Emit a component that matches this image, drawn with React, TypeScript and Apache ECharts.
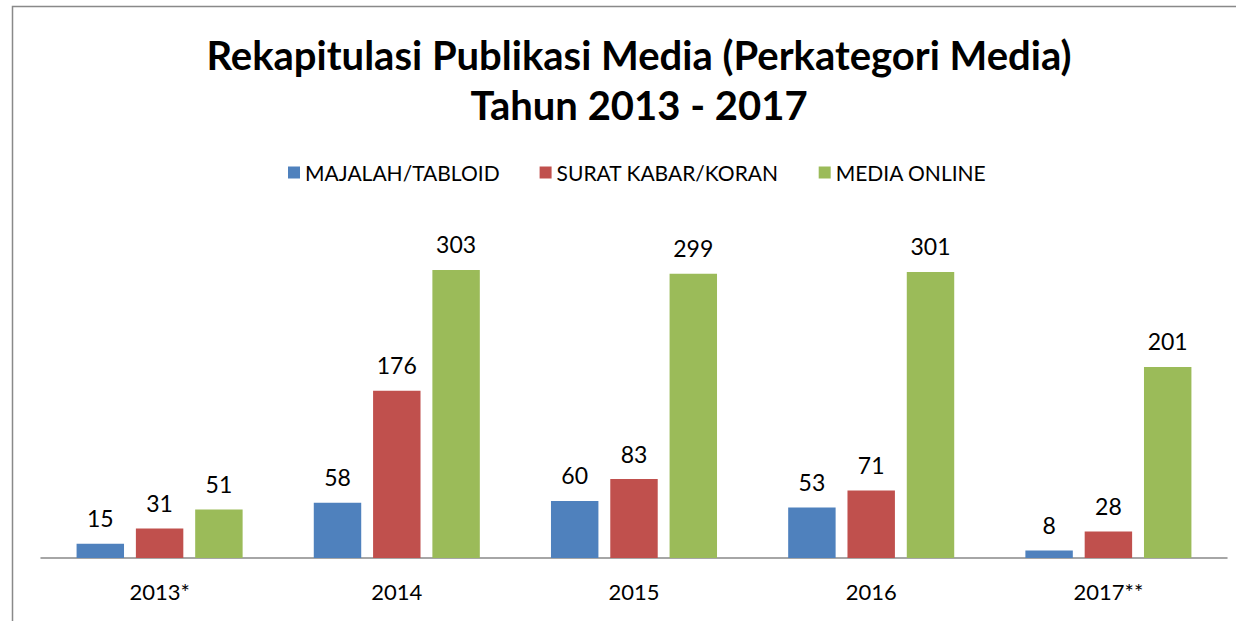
import React, { useEffect, useRef } from "react";
import * as echarts from "echarts";

const categories = ["2013*", "2014", "2015", "2016", "2017**"];
const majalah = [15, 58, 60, 53, 8];
const suratKabar = [31, 176, 83, 71, 28];
const mediaOnline = [51, 303, 299, 301, 201];
const seriesNames = ["MAJALAH/TABLOID", "SURAT KABAR/KORAN", "MEDIA ONLINE"];
const colors = ["#4F81BD", "#C0504D", "#9BBB59"];

const FONT = "Lato, 'DejaVu Sans', sans-serif";

export default function App() {
  const ref = useRef<HTMLDivElement>(null);
  useEffect(() => {
    if (!ref.current) return;
    const chart = echarts.init(ref.current, undefined, { renderer: "svg" });
    const mk = (name: string, data: number[], color: string) => ({
      name,
      type: "bar",
      data,
      barGap: "25%",
      barCategoryGap: "30%",
      itemStyle: { color },
      label: {
        show: true,
        position: "top",
        distance: 14,
        color: "#000",
        fontSize: 23,
        fontFamily: FONT,
      },
    });
    chart.setOption({
      animation: false,
      backgroundColor: "#fff",
      title: {
        text: "Rekapitulasi Publikasi Media (Perkategori Media)\nTahun 2013 - 2017",
        left: 634,
        textAlign: "center",
        top: 25,
        textStyle: {
          fontFamily: FONT,
          fontWeight: "bold",
          fontSize: 40,
          lineHeight: 50,
          color: "#000",
        },
      },
      legend: {
        top: 157,
        left: 283,
        itemWidth: 12,
        itemHeight: 12,
        itemGap: 40,
        icon: "rect",
        textStyle: { fontFamily: FONT, fontSize: 21, color: "#000" },
        data: seriesNames,
      },
      grid: { left: 41, right: 9, top: 225.3, bottom: 621 - 558, containLabel: false },
      xAxis: {
        type: "category",
        data: categories,
        axisLine: { lineStyle: { color: "#898989", width: 1.5 } },
        axisTick: { show: false },
        axisLabel: { color: "#000", fontSize: 22, fontFamily: FONT, margin: 22 },
      },
      yAxis: {
        type: "value",
        min: 0,
        max: 350,
        show: false,
        splitLine: { show: false },
      },
      series: [
        mk(seriesNames[0], majalah, colors[0]),
        mk(seriesNames[1], suratKabar, colors[1]),
        mk(seriesNames[2], mediaOnline, colors[2]),
      ],
      graphic: [
        {
          type: "rect",
          shape: { x: 12.5, y: 6.5, width: 1240, height: 640 },
          style: { fill: "none", stroke: "#898989", lineWidth: 1.5 },
          silent: true,
        },
      ],
    });
    return () => chart.dispose();
  }, []);
  return (
    <div
      ref={ref}
      style={{ position: "fixed", left: 0, top: 0, width: 1236, height: 621 }}
    />
  );
}
